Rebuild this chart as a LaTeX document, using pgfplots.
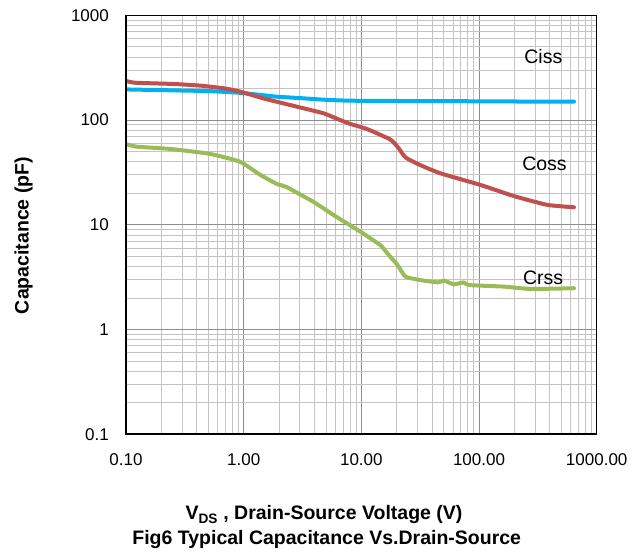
\documentclass[border=0pt]{standalone}
\usepackage{fontspec}
\setmainfont{Liberation Sans}
\usepackage{pgfplots}
\pgfplotsset{compat=1.18}

\definecolor{cissblue}{HTML}{00B0F0}
\definecolor{cossred}{HTML}{C0504D}
\definecolor{crssgreen}{HTML}{9BBB59}
\definecolor{majorgrid}{RGB}{140,140,140}
\definecolor{minorgrid}{RGB}{196,196,196}

\begin{document}
\begin{tikzpicture}
  \path[use as bounding box] (-126pt,-118.7pt) rectangle (514pt,434.3pt);
  \begin{axis}[
      at={(0,0)}, anchor=south west,
      scale only axis, width=470.7pt, height=419pt,
      xmode=log, ymode=log,
      xmin=0.1, xmax=1000, ymin=0.1, ymax=1000,
      xtick={0.1,1,10,100,1000},
      xticklabels={0.10,1.00,10.00,100.00,1000.00},
      ytick={0.1,1,10,100,1000},
      yticklabels={0.1,1,10,100,1000},
      grid=both,
      major grid style={draw=majorgrid, line width=0.8pt},
      minor grid style={draw=minorgrid, line width=0.8pt},
      tick style={draw=none},
      axis line style={black, line width=1.2pt},
      ticklabel style={font=\fontsize{17}{20}\selectfont},
      xticklabel style={yshift=-15.7pt},
      yticklabel style={xshift=-13.6pt},
      every axis plot/.append style={line width=4pt, line join=round, line cap=round, no marks, smooth, tension=0.3},
    ]
    % Ciss
    \addplot[cissblue] coordinates {
      (0.1,196) (0.2,193) (0.5,189) (0.93,182) (1.5,172) (1.91,167)
      (3,162) (5,156) (8,153) (20,152) (100,151) (300,150) (641,150)
    };
    % Coss
    \addplot[cossred] coordinates {
      (0.1,236) (0.12,227) (0.253,221) (0.43,213) (0.7,200) (0.93,187)
      (1.5,160) (2.84,134) (4.77,116) (6.6,100) (8,92) (11.2,82)
      (17.7,65) (20.7,54) (23.7,44) (31.6,37.2) (47,31) (103,24)
      (198,18.8) (380,15.5) (641,14.7)
    };
    % Crss
    \addplot[crssgreen] coordinates {
      (0.1,59) (0.123,55.7) (0.237,53) (0.518,47.5) (0.93,40) (1.38,30)
      (1.92,24.5) (2.3,23) (3.9,16.6) (5.8,12.4) (9.8,8.6) (14.5,6.4)
      (16.6,5.35) (18.4,4.69) (20.3,4.13) (23.7,3.2) (31.6,2.97)
      (44.5,2.82) (50.6,2.93) (61,2.70) (74,2.82) (81.7,2.66)
      (162,2.57) (274,2.44) (641,2.48)
    };
    \draw[black, line width=2pt] (rel axis cs:0,1) -- (rel axis cs:0,0) -- (rel axis cs:1,0);
    \node[font=\fontsize{19.5}{23}\selectfont] at (axis cs:352,403) {Ciss};
    \node[font=\fontsize{19.5}{23}\selectfont] at (axis cs:360,38.6) {Coss};
    \node[font=\fontsize{19.5}{23}\selectfont] at (axis cs:350,3.15) {Crss};
  \end{axis}
  \node[font=\bfseries\fontsize{19.5}{23}\selectfont, rotate=90] at (-102.5pt,198.8pt) {Capacitance (pF)};
  \node[font=\bfseries\fontsize{19.5}{23}\selectfont] at (198pt,-80.7pt) {V\textsubscript{DS} , Drain-Source Voltage (V)};
  \node[font=\bfseries\fontsize{19.5}{23}\selectfont] at (200.7pt,-105.7pt) {Fig6 Typical Capacitance Vs.Drain-Source};
\end{tikzpicture}
\end{document}
